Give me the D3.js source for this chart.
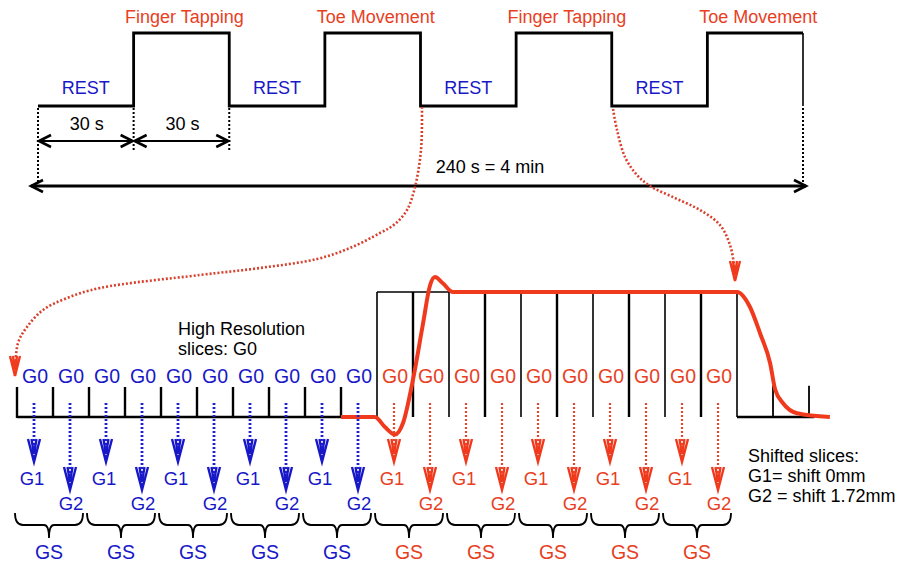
<!DOCTYPE html>
<html>
<head>
<meta charset="utf-8">
<script src="https://cdn.jsdelivr.net/npm/d3@7"></script>
<style>
  body { margin: 0; background: #fff; }
  text { font-family: 'Liberation Sans', Arial, sans-serif; }
</style>
</head>
<body>
<div id="app"></div>
<script>
'use strict'

// --- data ---
const blockLabels = ['REST', 'Finger Tapping', 'REST', 'Toe Movement', 'REST', 'Finger Tapping', 'REST', 'Toe Movement']
const blockLevels = [0, 1, 0, 1, 0, 1, 0, 1]
const blockSeconds = [30, 30, 30, 30, 30, 30, 30, 30]
const totalLabel = '240 s = 4 min'

const sliceLabels = ['G0', 'G0', 'G0', 'G0', 'G0', 'G0', 'G0', 'G0', 'G0', 'G0',
                     'G0', 'G0', 'G0', 'G0', 'G0', 'G0', 'G0', 'G0', 'G0', 'G0']
const shiftLabels = ['G1', 'G2', 'G1', 'G2', 'G1', 'G2', 'G1', 'G2', 'G1', 'G2',
                     'G1', 'G2', 'G1', 'G2', 'G1', 'G2', 'G1', 'G2', 'G1', 'G2']
const groupLabels = ['GS', 'GS', 'GS', 'GS', 'GS', 'GS', 'GS', 'GS', 'GS', 'GS']
const tailTicks = [21, 22]

// haemodynamic response (slice units, relative amplitude)
const responseTime = [9, 9.94, 10.22, 10.5, 10.72, 11.0, 11.28, 11.47, 11.61, 11.83, 12.11, 16, 20, 20.36, 20.64, 20.92, 21.06, 21.28, 21.67, 22.58]
const responseAmp  = [0, 0, -0.08, -0.14, -0.05, 0.30, 0.75, 1.05, 1.12, 1.07, 1.0, 1.0, 1.0, 0.88, 0.67, 0.43, 0.22, 0.11, 0.03, 0]

// zoom connectors (pixel paths)
const zoomLeft = [[422, 107], [421, 150], [415, 187], [407, 210], [395, 224], [380, 233], [350, 248], [317, 259], [260, 268], [200, 275], [100, 288], [67, 298], [43, 310], [27, 327], [18, 343], [15, 376]]
const zoomRight = [[613, 109], [617, 130], [625, 157], [637, 175], [650, 186], [675, 198], [700, 210], [720, 225], [730, 245], [734, 265], [735, 281]]

const BLUE = '#1818c8'
const RED = '#e8401f'
const CURVE = '#f03a1e'

const W = 902, H = 565
const svg = d3.select('#app').append('svg')
  .attr('width', W).attr('height', H)
  .style('display', 'block')

// --- top block design ---
const t = d3.scaleLinear().domain([0, 240]).range([38, 803])
const lv = d3.scaleLinear().domain([0, 1]).range([106, 33])

const starts = blockSeconds.reduce((acc, s, i) => { acc.push(i ? acc[i - 1] + blockSeconds[i - 1] : 0); return acc }, [])
const stepPts = []
blockLevels.forEach((l, i) => {
  stepPts.push([starts[i], l])
  stepPts.push([starts[i] + blockSeconds[i], l])
})
svg.append('path')
  .attr('d', d3.line().x(d => t(d[0])).y(d => lv(d[1]))(stepPts))
  .attr('fill', 'none').attr('stroke', '#000').attr('stroke-width', 2.8)
// closing edge of the last block
svg.append('line').attr('x1', t(240)).attr('x2', t(240)).attr('y1', lv(1)).attr('y2', lv(0))
  .attr('stroke', '#000').attr('stroke-width', 1.6)

svg.selectAll('.blk').data(blockLabels).enter().append('text')
  .attr('x', (d, i) => t(starts[i] + blockSeconds[i] / 2) + (blockLevels[i] ? 3 : 0))
  .attr('y', (d, i) => blockLevels[i] ? 23 : 94)
  .attr('text-anchor', 'middle')
  .attr('font-size', 18)
  .attr('fill', (d, i) => blockLevels[i] ? RED : BLUE)
  .text(d => d)

const arrowH = (g, x, y, dir, s) => {
  g.append('path')
    .attr('d', `M${x + dir * s * 2},${y - s} L${x},${y} L${x + dir * s * 2},${y + s}`)
    .attr('fill', 'none').attr('stroke', '#000').attr('stroke-width', 2.6)
}

// dotted markers
const dotted = [[0, 183], [30, 152], [60, 152], [240, 186]]
dotted.forEach(d => {
  svg.append('line')
    .attr('x1', t(d[0])).attr('x2', t(d[0]))
    .attr('y1', lv(0) + 2).attr('y2', d[1])
    .attr('stroke', '#000').attr('stroke-width', 2).attr('stroke-dasharray', '2,2')
})

// 30 s arrows
;[0, 1].forEach(i => {
  const x1 = t(starts[i]) + 1, x2 = t(starts[i] + blockSeconds[i]) - 1
  svg.append('line').attr('x1', x1).attr('x2', x2).attr('y1', 141).attr('y2', 141)
    .attr('stroke', '#000').attr('stroke-width', 2.2)
  arrowH(svg, x1, 141, 1, 6)
  arrowH(svg, x2, 141, -1, 6)
  svg.append('text')
    .attr('x', t(starts[i] + blockSeconds[i] / 2) + 1).attr('y', 130)
    .attr('text-anchor', 'middle').attr('font-size', 18)
    .text(blockSeconds[i] + ' s')
})

// total arrow
svg.append('line').attr('x1', 31).attr('x2', 806).attr('y1', 186).attr('y2', 186)
  .attr('stroke', '#000').attr('stroke-width', 3)
arrowH(svg, 31, 186, 1, 6)
arrowH(svg, 806, 186, -1, 6)
svg.append('text').attr('x', 490).attr('y', 173)
  .attr('text-anchor', 'middle').attr('font-size', 18).text(totalLabel)

// --- zoom connectors ---
const conn = d3.line().curve(d3.curveCatmullRom)
;[zoomLeft, zoomRight].forEach(pts => {
  svg.append('path').attr('d', conn(pts))
    .attr('fill', 'none').attr('stroke', '#d8402c').attr('stroke-width', 2.6)
    .attr('stroke-dasharray', '2,2')
  const tip = pts[pts.length - 1]
  svg.append('path')
    .attr('d', `M${tip[0] - 5},${tip[1] - 20} L${tip[0]},${tip[1]} L${tip[0] + 5},${tip[1] - 20} M${tip[0] - 2},${tip[1] - 20} L${tip[0]},${tip[1] - 6} L${tip[0] + 2},${tip[1] - 20}`)
    .attr('fill', 'none').attr('stroke', CURVE).attr('stroke-width', 2.4)
})

// --- slice diagram ---
const sx = d3.scaleLinear().domain([0, 20]).range([17, 737])
const sy = d3.scaleLinear().domain([0, 1]).range([417, 292])

// left baseline + short ticks
svg.append('line').attr('x1', sx(0)).attr('x2', sx(9)).attr('y1', sy(0)).attr('y2', sy(0))
  .attr('stroke', '#000').attr('stroke-width', 2.6)
svg.selectAll('.stick').data(d3.range(0, 10)).enter().append('line')
  .attr('x1', d => sx(d)).attr('x2', d => sx(d))
  .attr('y1', sy(0.24)).attr('y2', sy(0) + 1)
  .attr('stroke', '#000').attr('stroke-width', 2.4)

// active block: tall boxes
svg.append('line').attr('x1', sx(10)).attr('x2', sx(20)).attr('y1', sy(1)).attr('y2', sy(1))
  .attr('stroke', '#000').attr('stroke-width', 1.6)
svg.selectAll('.ttick').data(d3.range(10, 21)).enter().append('line')
  .attr('x1', d => sx(d)).attr('x2', d => sx(d))
  .attr('y1', sy(1)).attr('y2', sy(0))
  .attr('stroke', '#000').attr('stroke-width', d => d % 2 ? 2.4 : 1.6)

// tail
svg.append('line').attr('x1', sx(20)).attr('x2', sx(22.15)).attr('y1', sy(0)).attr('y2', sy(0))
  .attr('stroke', '#000').attr('stroke-width', 2.6)
svg.selectAll('.rtick').data(tailTicks).enter().append('line')
  .attr('x1', d => sx(d)).attr('x2', d => sx(d))
  .attr('y1', sy(0.25)).attr('y2', sy(0))
  .attr('stroke', '#000').attr('stroke-width', 1.8)

// response curve
const resp = responseTime.map((d, i) => [d, responseAmp[i]])
svg.append('path')
  .attr('d', d3.line().curve(d3.curveMonotoneX).x(d => sx(d[0])).y(d => sy(d[1]))(resp))
  .attr('fill', 'none').attr('stroke', CURVE).attr('stroke-width', 4)
  .attr('stroke-linejoin', 'round')

// G0 labels
svg.selectAll('.g0').data(sliceLabels).enter().append('text')
  .attr('x', (d, i) => sx(i + 0.5))
  .attr('y', 383)
  .attr('text-anchor', 'middle').attr('font-size', 19.5)
  .attr('fill', (d, i) => i < 10 ? BLUE : RED)
  .attr('textLength', 26).attr('lengthAdjust', 'spacingAndGlyphs')
  .text(d => d)

// shifted slice arrows
const sh = svg.selectAll('.sh').data(shiftLabels).enter().append('g')
sh.append('line')
  .attr('x1', (d, i) => sx(i + 0.5) - 1).attr('x2', (d, i) => sx(i + 0.5) - 1)
  .attr('y1', 403).attr('y2', (d, i) => (i % 2 ? 490 : 462) - 4)
  .attr('stroke', (d, i) => i < 10 ? '#2020d0' : '#e04a30')
  .attr('stroke-width', (d, i) => i < 10 ? 2.8 : 2.2)
  .attr('stroke-dasharray', '2,2')
sh.append('path')
  .attr('d', (d, i) => {
    const x = sx(i + 0.5) - 1, y = i % 2 ? 490 : 462
    return `M${x - 6},${y - 23} L${x},${y} L${x + 6},${y - 23} M${x - 2.5},${y - 23} L${x},${y - 8} L${x + 2.5},${y - 23}`
  })
  .attr('fill', 'none')
  .attr('stroke', (d, i) => i < 10 ? BLUE : CURVE)
  .attr('stroke-width', 2.4)
sh.append('text')
  .attr('x', (d, i) => sx(i + 0.5) + (i % 2 ? 0 : -3))
  .attr('y', (d, i) => i % 2 ? 510 : 485)
  .attr('text-anchor', 'middle').attr('font-size', 18.5)
  .attr('fill', (d, i) => i < 10 ? BLUE : RED)
  .text(d => d)

// braces
const brace = (x1, x2, y) => {
  const c = (x1 + x2) / 2
  return `M${x1},${y} Q${x1},${y + 12} ${x1 + 8},${y + 12} L${c - 5},${y + 12} Q${c},${y + 12} ${c},${y + 25}` +
         ` Q${c},${y + 12} ${c + 5},${y + 12} L${x2 - 8},${y + 12} Q${x2},${y + 12} ${x2},${y}`
}
const gs = svg.selectAll('.gs').data(groupLabels).enter().append('g')
gs.append('path')
  .attr('d', (d, k) => brace(sx(2 * k) - 2, sx(2 * k + 2) - 6, 513))
  .attr('fill', 'none').attr('stroke', '#000').attr('stroke-width', 1.8)
gs.append('text')
  .attr('x', (d, k) => sx(2 * k) + 32)
  .attr('y', 559)
  .attr('text-anchor', 'middle').attr('font-size', 19.5)
  .attr('fill', (d, k) => k < 5 ? BLUE : RED)
  .text(d => d)

// annotations
const note = (x, y, s) => svg.append('text').attr('x', x).attr('y', y).attr('font-size', 18).text(s)
note(178, 335, 'High Resolution')
note(178, 355, 'slices: G0')
note(748, 462, 'Shifted slices:')
note(748, 482, 'G1= shift 0mm')
note(748, 502, 'G2 = shift 1.72mm')
</script>
</body>
</html>
